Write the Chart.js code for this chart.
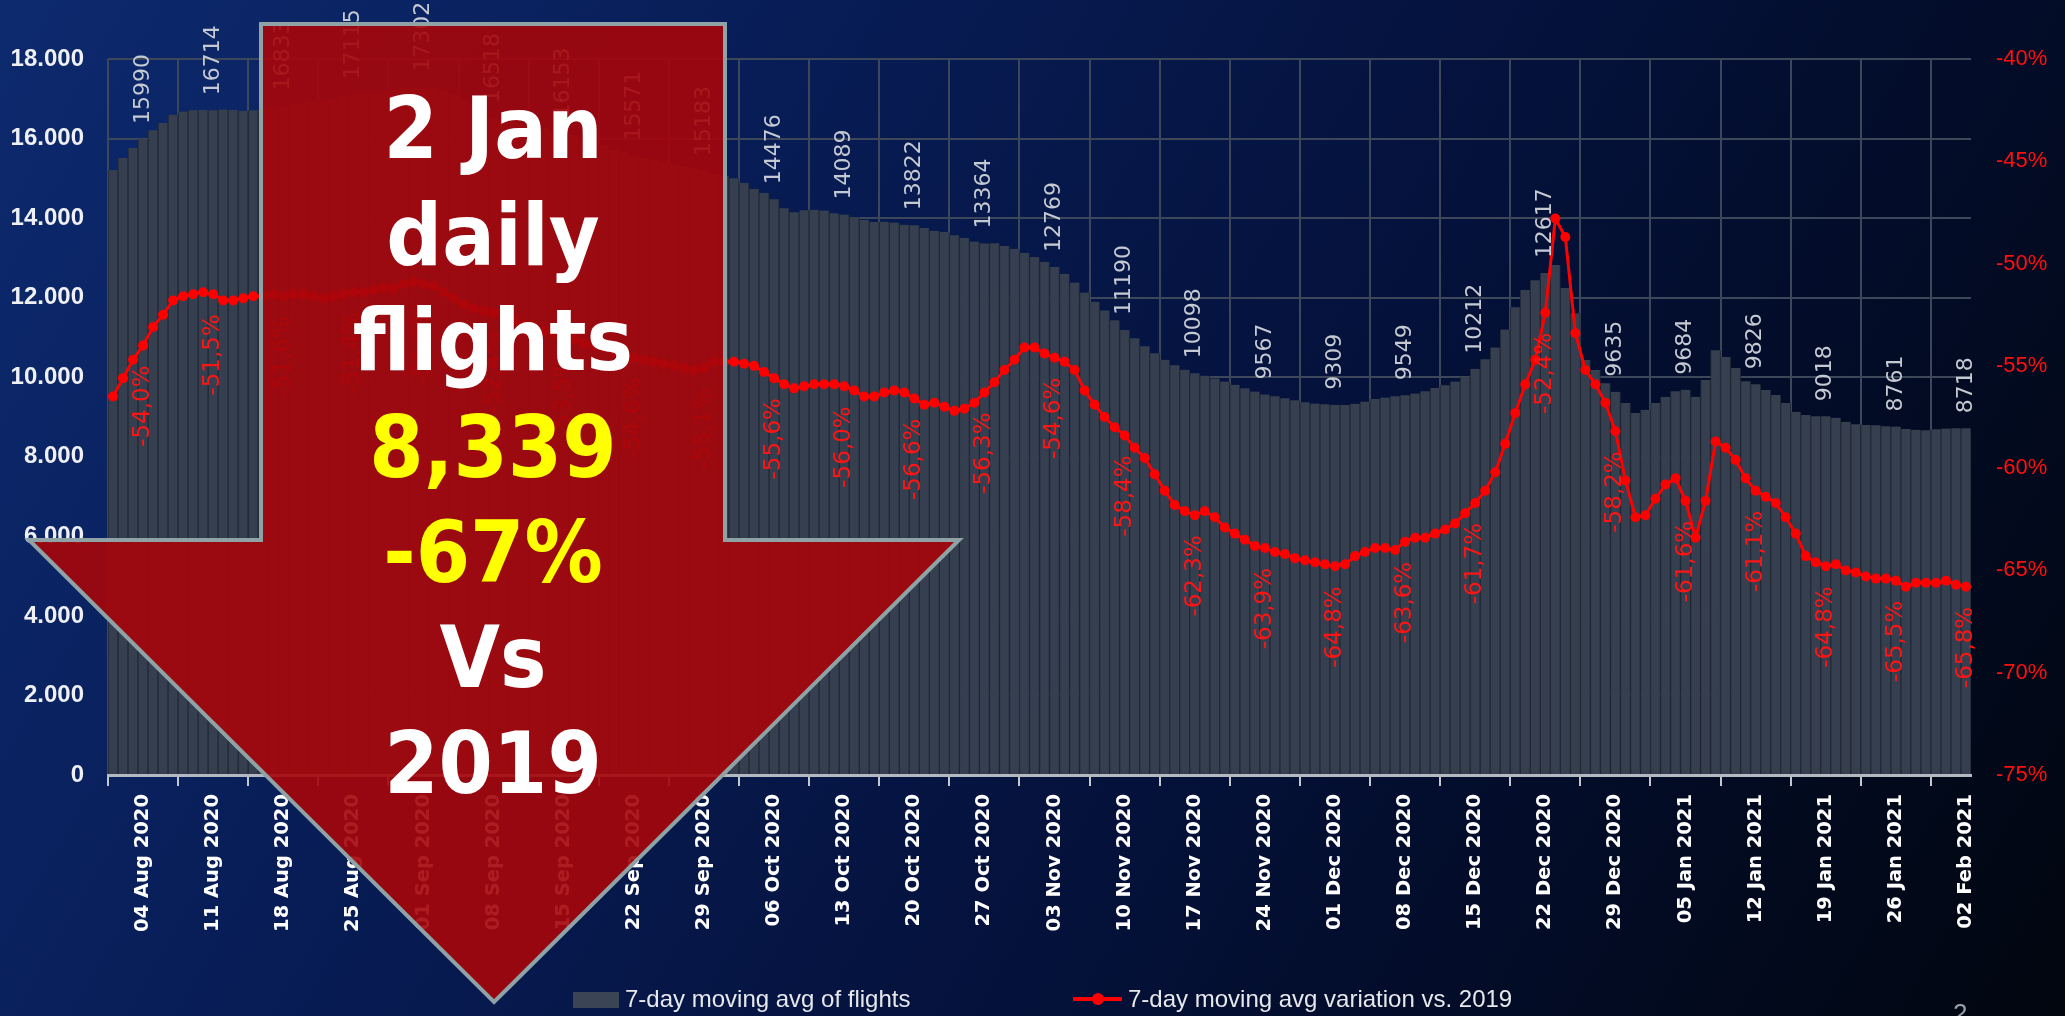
<!DOCTYPE html>
<html lang="en">
<head>
<meta charset="UTF-8">
<title>Daily flights - 7-day moving average</title>
<script src="https://cdn.jsdelivr.net/npm/chart.js"></script>
<style>
  html, body { margin: 0; padding: 0; }
  body {
    width: 2065px; height: 1016px; overflow: hidden; position: relative;
    background: linear-gradient(120deg, #0d2a6e 0%, #081d57 30%, #04113a 60%, #01060f 100%);
    font-family: "Liberation Sans", Arial, sans-serif;
  }
  #grafico { position: absolute; left: 0; top: 0; }
  #seta { position: absolute; left: 0; top: 0; pointer-events: none; }
  .legenda { position: absolute; top: 985px; color: #e6e8ec; font-size: 24px; line-height: 28px; white-space: nowrap; }
  .caixa { display: inline-block; width: 46px; height: 16px; background: #3a4454; margin-right: 6px; vertical-align: -1px; }
  .traco { display: inline-block; position: relative; width: 49px; height: 4px; background: #ff0000; margin-right: 6px; vertical-align: 6px; }
  .traco::after { content: ""; position: absolute; left: 19px; top: -4px; width: 12px; height: 12px; border-radius: 50%; background: #ff0000; }
  #pagina { position: absolute; left: 1953px; top: 998px; color: #9aa0a8; font-size: 26px; }
</style>
</head>
<body>
  <canvas id="grafico" width="2065" height="1016"></canvas>

  <svg id="seta" width="2065" height="1016" viewBox="0 0 2065 1016">
    <polygon points="261,24 725,24 725,540 959,540 494,1002 29,540 261,540"
             fill="rgba(165,6,10,0.91)" stroke="#8fa2a6" stroke-width="4"/>
    <g font-family="DejaVu Sans" font-weight="bold" font-size="85" text-anchor="middle">
      <text transform="translate(493 158) scale(0.92 1)" fill="#ffffff">2 Jan</text>
      <text transform="translate(493 265) scale(0.92 1)" fill="#ffffff">daily</text>
      <text transform="translate(493 370) scale(0.92 1)" fill="#ffffff">flights</text>
      <text transform="translate(493 477) scale(0.92 1)" fill="#ffff00">8,339</text>
      <text transform="translate(493 582) scale(0.92 1)" fill="#ffff00">-67%</text>
      <text transform="translate(493 687) scale(0.92 1)" fill="#ffffff">Vs</text>
      <text transform="translate(493 793) scale(0.92 1)" fill="#ffffff">2019</text>
    </g>
  </svg>

  <div class="legenda" style="left:573px"><span class="caixa"></span>7-day moving avg of flights</div>
  <div class="legenda" style="left:1073px"><span class="traco"></span>7-day moving avg variation vs. 2019</div>
  <div id="pagina">2</div>

  <script>
    // 7-day moving average of daily flights, one value per day from 01 Aug 2020
    const flights7d = [
      15210, 15510, 15760, 15990, 16210, 16390, 16600, 16680, 16710, 16720,
      16714, 16730, 16720, 16700, 16710, 16740, 16790, 16833, 16870, 16900,
      16940, 16980, 17020, 17070, 17115, 17150, 17180, 17210, 17240, 17270,
      17290, 17302, 17270, 17210, 17120, 17000, 16850, 16680, 16518, 16460,
      16410, 16360, 16300, 16250, 16200, 16153, 16080, 16000, 15910, 15820,
      15730, 15650, 15571, 15520, 15470, 15420, 15360, 15300, 15240, 15183,
      15130, 15060, 15000, 14880, 14730, 14630, 14476, 14250, 14150, 14200,
      14210, 14190, 14120, 14089, 14030, 13950, 13900, 13910, 13890, 13830,
      13822, 13750, 13680, 13650, 13570, 13500, 13410, 13364, 13370, 13300,
      13230, 13130, 13020, 12900, 12769, 12600, 12380, 12130, 11900, 11680,
      11430, 11190, 10980, 10780, 10600, 10440, 10300, 10190, 10098, 10040,
      9970, 9890, 9810, 9720, 9640, 9567, 9520, 9470, 9420, 9370,
      9340, 9320, 9309, 9300, 9330, 9390, 9450, 9490, 9520, 9549,
      9590, 9650, 9730, 9800, 9890, 10010, 10212, 10450, 10750, 11200,
      11760, 12190, 12440, 12617, 12820, 12240, 11610, 10430, 10180, 9850,
      9635, 9350, 9100, 9180, 9350, 9500, 9650, 9684, 9510, 9930,
      10680, 10510, 10230, 9900, 9826, 9680, 9550, 9350, 9130, 9050,
      9020, 9018, 8980, 8880, 8820, 8800, 8790, 8770, 8761, 8700,
      8680, 8670, 8690, 8710, 8720, 8718
    ];

    // variation of the 7-day average vs. the same days of 2019 (%)
    const variation7d = [
      -56.5, -55.6, -54.7, -54.0, -53.1, -52.5, -51.8, -51.6, -51.5, -51.4,
      -51.5, -51.8, -51.8, -51.7, -51.6, -51.6, -51.5, -51.6, -51.5, -51.5,
      -51.6, -51.7, -51.6, -51.5, -51.4, -51.4, -51.3, -51.2, -51.2, -51.0,
      -50.9, -51.0, -51.1, -51.4, -51.7, -52.0, -52.2, -52.3, -52.4, -52.6,
      -52.8, -53.0, -53.1, -53.3, -53.4, -53.5, -53.7, -53.9, -54.0, -54.1,
      -54.3, -54.4, -54.6, -54.7, -54.8, -54.9, -55.0, -55.1, -55.2, -55.1,
      -54.8, -54.8, -54.8, -54.9, -55.0, -55.3, -55.6, -55.9, -56.1, -56.0,
      -55.9, -55.9, -55.9, -56.0, -56.2, -56.5, -56.5, -56.3, -56.2, -56.3,
      -56.6, -56.9, -56.8, -57.0, -57.2, -57.1, -56.8, -56.3, -55.8, -55.2,
      -54.7, -54.1, -54.1, -54.4, -54.6, -54.8, -55.2, -56.2, -56.9, -57.5,
      -58.0, -58.4, -59.0, -59.5, -60.3, -61.1, -61.8, -62.1, -62.3, -62.1,
      -62.4, -62.9, -63.2, -63.5, -63.8, -63.9, -64.1, -64.2, -64.4, -64.5,
      -64.6, -64.7, -64.8, -64.7, -64.3, -64.1, -63.9, -63.9, -64.0, -63.6,
      -63.4, -63.4, -63.2, -63.0, -62.7, -62.2, -61.7, -61.1, -60.2, -58.8,
      -57.3, -55.9, -54.7, -52.4, -47.8, -48.7, -53.4, -55.2, -55.9, -56.8,
      -58.2, -60.6, -62.4, -62.3, -61.5, -60.8, -60.5, -61.6, -63.4, -61.6,
      -58.7, -59.0, -59.6, -60.5, -61.1, -61.4, -61.7, -62.4, -63.2, -64.3,
      -64.6, -64.8, -64.7, -65.0, -65.1, -65.3, -65.4, -65.4, -65.5, -65.8,
      -65.6, -65.6, -65.6, -65.5, -65.7, -65.8
    ];

    // weekly labels shown on the date axis (values are printed on the same days)
    const tickLabels = [
      '04 Aug 2020', '11 Aug 2020', '18 Aug 2020', '25 Aug 2020', '01 Sep 2020',
      '08 Sep 2020', '15 Sep 2020', '22 Sep 2020', '29 Sep 2020', '06 Oct 2020',
      '13 Oct 2020', '20 Oct 2020', '27 Oct 2020', '03 Nov 2020', '10 Nov 2020',
      '17 Nov 2020', '24 Nov 2020', '01 Dec 2020', '08 Dec 2020', '15 Dec 2020',
      '22 Dec 2020', '29 Dec 2020', '05 Jan 2021', '12 Jan 2021', '19 Jan 2021',
      '26 Jan 2021', '02 Feb 2021'
    ];

    const meses = ['Jan', 'Feb', 'Mar', 'Apr', 'May', 'Jun', 'Jul', 'Aug', 'Sep', 'Oct', 'Nov', 'Dec'];
    const dias = flights7d.map((_, i) => {
      const d = new Date(Date.UTC(2020, 7, 1 + i));
      return String(d.getUTCDate()).padStart(2, '0') + ' ' + meses[d.getUTCMonth()] + ' ' + d.getUTCFullYear();
    });

    const corGrade = '#3c4859';
    const milhar = v => String(v).replace(/\B(?=(\d{3})+(?!\d))/g, '.');

    function textoVertical(ctx, texto, x, y, alinhamento, cor) {
      ctx.save();
      ctx.translate(x, y);
      ctx.rotate(-Math.PI / 2);
      ctx.textAlign = alinhamento;
      ctx.textBaseline = 'middle';
      ctx.fillStyle = cor;
      ctx.fillText(texto, 0, 0);
      ctx.restore();
    }

    // weekly values: flights above the bar, variation under the point
    const rotuloValores = {
      id: 'rotuloValores',
      afterDatasetsDraw(chart) {
        const ctx = chart.ctx;
        const barras = chart.getDatasetMeta(0).data;
        const pontos = chart.getDatasetMeta(1).data;
        ctx.save();
        dias.forEach((dia, i) => {
          if (!tickLabels.includes(dia)) return;
          ctx.font = '22px "DejaVu Sans"';
          textoVertical(ctx, String(flights7d[i]), barras[i].x, barras[i].y - 15, 'left', '#c5cad2');
          const pct = variation7d[i].toFixed(1).replace('.', ',') + '%';
          ctx.font = '23px "DejaVu Sans"';
          textoVertical(ctx, pct, pontos[i].x, pontos[i].y + 20, 'right', '#ff1414');
        });
        ctx.restore();
      }
    };

    new Chart(document.getElementById('grafico').getContext('2d'), {
      data: {
        labels: dias,
        datasets: [
          {
            type: 'bar',
            label: '7-day moving avg of flights',
            data: flights7d,
            yAxisID: 'y',
            backgroundColor: '#353f50',
            borderColor: '#222a35',
            borderWidth: { left: 1, right: 1, top: 0, bottom: 0 },
            barPercentage: 1,
            categoryPercentage: 1,
            order: 2
          },
          {
            type: 'line',
            label: '7-day moving avg variation vs. 2019',
            data: variation7d,
            yAxisID: 'y1',
            borderColor: '#ff0000',
            backgroundColor: '#ff0000',
            borderWidth: 3,
            pointRadius: 5,
            pointBorderWidth: 0,
            pointBackgroundColor: '#ff0000',
            tension: 0,
            order: 1
          }
        ]
      },
      options: {
        responsive: false,
        animation: false,
        layout: { padding: { top: 59, left: 0, right: 0, bottom: 0 } },
        plugins: { legend: { display: false }, tooltip: { enabled: false } },
        scales: {
          x: {
            offset: true,
            grid: {
              offset: true,
              color: c => c.index % 7 === 0 ? corGrade : 'transparent',
              lineWidth: 2,
              tickLength: 11,
              tickColor: c => c.index % 7 === 0 ? '#c3c8cf' : 'transparent'
            },
            border: { display: true, color: '#b3b9c1', width: 3 },
            ticks: {
              autoSkip: false,
              minRotation: 90,
              maxRotation: 90,
              padding: 8,
              color: '#ffffff',
              font: { family: 'DejaVu Sans', size: 19.5, weight: 'bold' },
              callback(valor) {
                const d = this.getLabelForValue(valor);
                return tickLabels.includes(d) ? d : '';
              }
            },
            afterFit: s => { s.height = 241; }
          },
          y: {
            position: 'left',
            min: 0,
            max: 18000,
            ticks: {
              stepSize: 2000,
              padding: 24,
              color: '#eef0f4',
              font: { family: 'Liberation Sans', size: 24, weight: 'bold' },
              callback: v => milhar(v)
            },
            grid: { color: corGrade, lineWidth: 2, drawTicks: false },
            border: { display: false },
            afterFit: s => { s.width = 108; }
          },
          y1: {
            position: 'right',
            min: -75,
            max: -40,
            ticks: {
              stepSize: 5,
              padding: 25,
              color: '#ff1010',
              font: { family: 'Liberation Sans', size: 22 },
              callback: v => v + '%'
            },
            grid: { drawOnChartArea: false, drawTicks: false },
            border: { display: false },
            afterFit: s => { s.width = 94; }
          }
        }
      },
      plugins: [rotuloValores]
    });
  </script>
</body>
</html>
